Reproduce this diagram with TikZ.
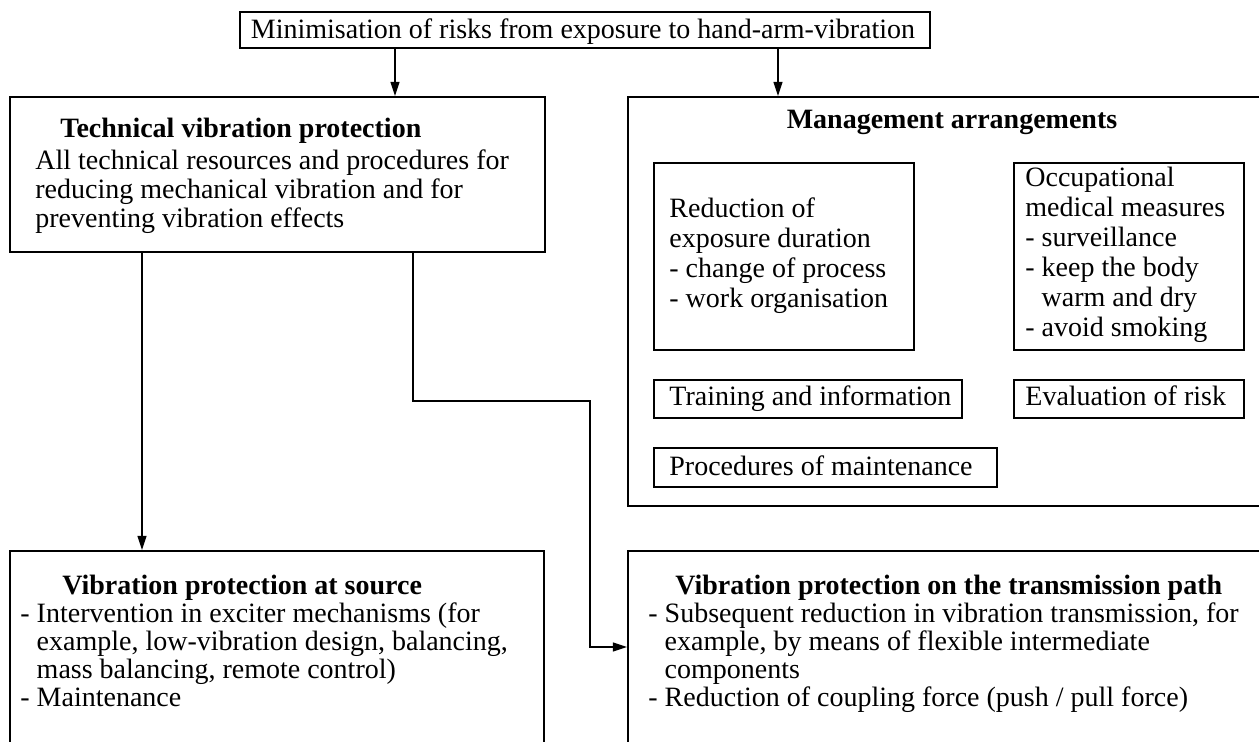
\documentclass[tikz,border=0pt]{standalone}
\usepackage{fontspec}
\setmainfont{Liberation Serif}
\usetikzlibrary{arrows.meta,fit,calc}
\tikzset{
  outerbox/.style={draw, line width=1.1pt, inner sep=0pt},
  innerbox/.style={draw, line width=0.8pt, inner sep=0pt},
  txt/.style={inner sep=0pt, align=left, font=\fontsize{14}{15}\selectfont},
  txtb/.style={inner sep=0pt, align=left, font=\fontsize{14}{14}\selectfont},
  ttl/.style={inner sep=0pt, font=\fontsize{14}{15}\selectfont\bfseries},
  conn/.style={line width=0.65pt, -{Triangle[length=7pt,width=4.5pt]}},
}
\begin{document}
\begin{tikzpicture}[x=0.5pt,y=-0.5pt]
\useasboundingbox (0,0) rectangle (1259,742);
\clip (0,0) rectangle (1259,742);
% boxes
\node[outerbox, fit={(240,12) (930,48)}] (top) {};
\node[outerbox, fit={(10,97) (545,252)}] (tech) {};
\node[outerbox, fit={(628,97) (1276,506)}] (mgmt) {};
\node[innerbox, fit={(654,163) (914,350)}] (red) {};
\node[innerbox, fit={(1014,163) (1244,350)}] (occ) {};
\node[innerbox, fit={(654,380) (962,418)}] (train) {};
\node[innerbox, fit={(1014,380) (1244,418)}] (eval) {};
\node[innerbox, fit={(654,448) (997,487)}] (proc) {};
\node[outerbox, fit={(10,551) (544,800)}] (src) {};
\node[outerbox, fit={(628,551) (1276,800)}] (trans) {};
% texts
\node[txt, anchor=center] (toptxt) at (583,32) {Minimisation of risks from exposure to hand-arm-vibration};
\node[ttl, anchor=north west] (techttl) at (60,118) {Technical vibration protection};
\node[txt, anchor=north west, font=\fontsize{14}{14.5}\selectfont] (techtxt) at (35,149) {All technical resources and procedures for\\reducing mechanical vibration and for\\preventing vibration effects};
\node[ttl, anchor=center] (mgmtttl) at (952,122) {Management arrangements};
\node[txt, anchor=north west] (redtxt) at (669,197) {Reduction of\\exposure duration\\- change of process\\- work organisation};
\node[txt, anchor=north west] (occtxt) at (1025,167) {Occupational\\medical measures\\- surveillance\\- keep the body\\\phantom{-} warm and dry\\- avoid smoking};
\node[txt, anchor=base west] (traintxt) at (669,406) {Training and information};
\node[txt, anchor=base west] (evaltxt) at (1025,406) {Evaluation of risk};
\node[txt, anchor=base west] (proctxt) at (669,476) {Procedures of maintenance};
\node[ttl, anchor=north west] (srcttl) at (62,575) {Vibration protection at source};
\node[txtb, anchor=north west] (srctxt) at (20,602) {- Intervention in exciter mechanisms (for\\\phantom{-} example, low-vibration design, balancing,\\\phantom{-} mass balancing, remote control)\\- Maintenance};
\node[ttl, anchor=north west] (transttl) at (675,575) {Vibration protection on the transmission path};
\node[txtb, anchor=north west] (transtxt) at (648,602) {- Subsequent reduction in vibration transmission, for\\\phantom{-} example, by means of flexible intermediate\\\phantom{-} components\\- Reduction of coupling force (push / pull force)};
% connector helpers
\coordinate (xa) at (395,0);
\coordinate (xb) at (778,0);
\coordinate (xc) at (142,0);
\coordinate (e1) at (413,401);
\coordinate (e2) at (590,647);
% connectors
\draw[conn] (top.south -| xa) -- (tech.north -| xa);
\draw[conn] (top.south -| xb) -- (mgmt.north -| xb);
\draw[conn] (tech.south -| xc) -- (src.north -| xc);
\draw[conn] (tech.south -| e1) -- (e1) -| (e2) -- (trans.west |- e2);
\end{tikzpicture}
\end{document}
